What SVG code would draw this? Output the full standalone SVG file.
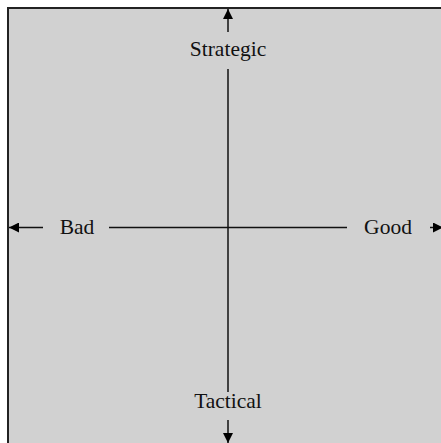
<svg xmlns="http://www.w3.org/2000/svg" width="441" height="443" viewBox="0 0 441 443">
<style>
.lbl{font-family:"Liberation Serif","DejaVu Serif",serif;font-size:21.5px;fill:#111;text-anchor:middle}
.ax{stroke:#111;stroke-width:1.5;fill:none}
</style>
<defs>
<marker id="ah" viewBox="0 0 10 10" refX="10" refY="5" markerWidth="10" markerHeight="10" markerUnits="userSpaceOnUse" orient="auto">
<path d="M0,0 L10,5 L0,10 Z" fill="#000"/>
</marker>
</defs>
<rect x="8" y="8" width="445" height="445" fill="#d1d1d1" stroke="#222" stroke-width="2"/>
<g id="connectors">
<line class="ax" x1="228" y1="69" x2="228" y2="392"/>
<line class="ax" x1="109" y1="227.5" x2="347" y2="227.5"/>
<line class="ax" x1="228" y1="32" x2="228" y2="9" marker-end="url(#ah)"/>
<line class="ax" x1="228" y1="420" x2="228" y2="443" marker-end="url(#ah)"/>
<line class="ax" x1="43" y1="227.5" x2="9" y2="227.5" marker-end="url(#ah)"/>
<line class="ax" x1="430" y1="227.5" x2="443" y2="227.5" marker-end="url(#ah)"/>
</g>
<g id="strategic"><text class="lbl" x="228" y="56">Strategic</text></g>
<g id="tactical"><text class="lbl" x="228" y="408">Tactical</text></g>
<g id="bad"><text class="lbl" x="77" y="234">Bad</text></g>
<g id="good"><text class="lbl" x="388" y="234">Good</text></g>
</svg>
